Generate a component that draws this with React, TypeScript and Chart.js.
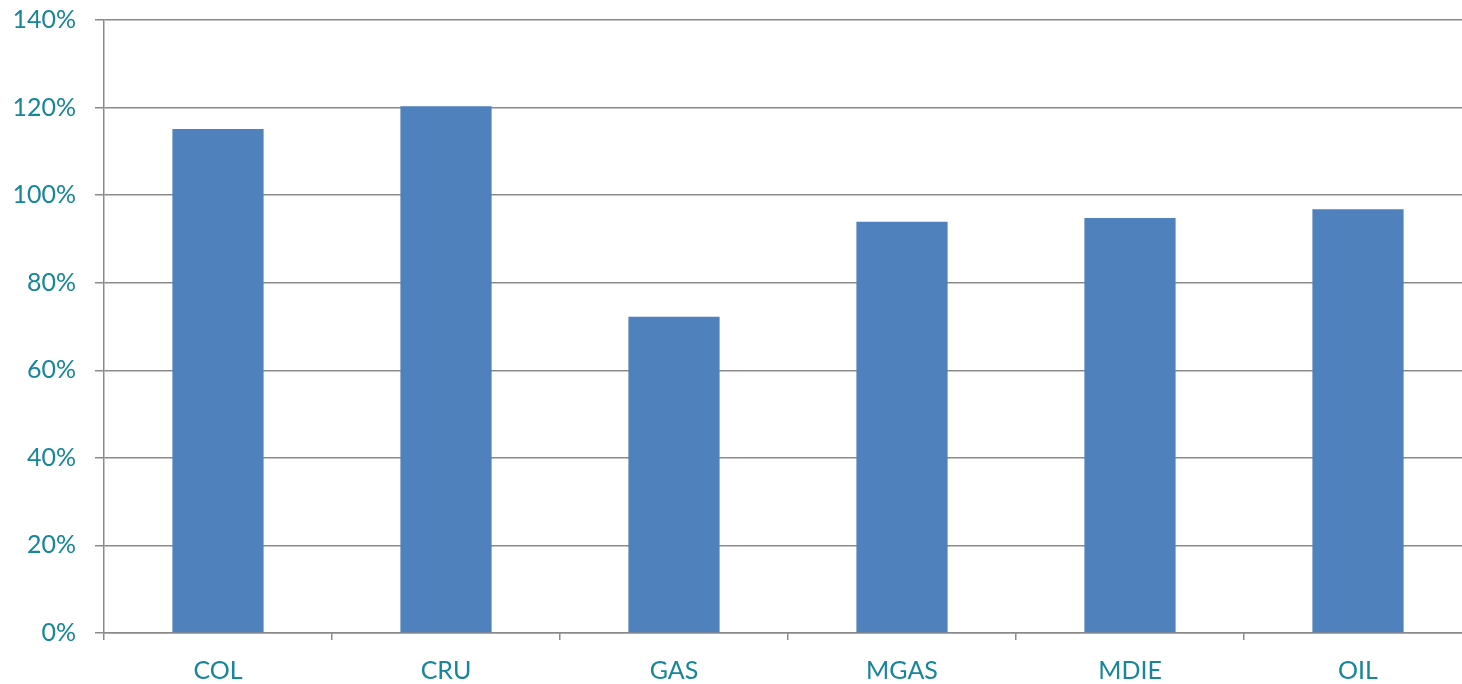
import React, { useEffect, useRef } from "react";
import { Chart, registerables } from "chart.js";

Chart.register(...registerables);

const categories = ["COL", "CRU", "GAS", "MGAS", "MDIE", "OIL"];
const values = [115.1, 120.3, 72.2, 93.9, 94.8, 96.8];
const yTicks = [0, 20, 40, 60, 80, 100, 120, 140];

const TEXT = "#17859A";
const GRID = "#8A8A8A";
const BAR = "#4F81BD";
const FONT = "Lato, 'Open Sans', sans-serif";

export default function App() {
  const ref = useRef<HTMLCanvasElement | null>(null);
  useEffect(() => {
    if (!ref.current) return;
    const chart = new Chart(ref.current, {
      type: "bar",
      data: {
        labels: categories,
        datasets: [
          {
            data: values,
            backgroundColor: BAR,
            categoryPercentage: 1,
            barPercentage: 0.4,
          },
        ],
      },
      options: {
        animation: false,
        responsive: true,
        maintainAspectRatio: false,
        layout: { padding: { top: 20, right: 0, left: 0, bottom: 0 } },
        plugins: { legend: { display: false }, tooltip: { enabled: false } },
        scales: {
          x: {
            offset: true,
            grid: {
              offset: true,
              drawOnChartArea: false,
              drawTicks: true,
              tickLength: 7,
              color: GRID,
              lineWidth: 1.5,
            },
            border: { display: true, color: GRID, width: 1.5 },
            ticks: {
              color: TEXT,
              font: { family: FONT, size: 25 },
              padding: 16,
            },
            afterFit: (scale: any) => {
              scale.height = 51;
              scale.paddingLeft = 0;
              scale.paddingRight = 0;
            },
          },
          y: {
            min: 0,
            max: 140,
            afterBuildTicks: (scale: any) => {
              scale.ticks = yTicks.map((v) => ({ value: v }));
            },
            grid: {
              color: GRID,
              lineWidth: 1.5,
              drawTicks: true,
              tickLength: 9,
            },
            border: { display: true, color: GRID, width: 1.5 },
            ticks: {
              color: TEXT,
              font: { family: FONT, size: 25 },
              padding: 19,
              callback: (v: any) => `${v}%`,
            },
            afterFit: (scale: any) => {
              scale.width = 104;
              scale.paddingTop = 0;
              scale.paddingBottom = 0;
            },
          },
        },
      },
    });
    return () => chart.destroy();
  }, []);
  return (
    <div
      style={{
        position: "fixed",
        left: 0,
        top: 0,
        width: 1462,
        height: 684,
        overflow: "hidden",
      }}
    >
      <div style={{ position: "relative", width: 1472, height: 684 }}>
        <canvas ref={ref} />
      </div>
    </div>
  );
}
